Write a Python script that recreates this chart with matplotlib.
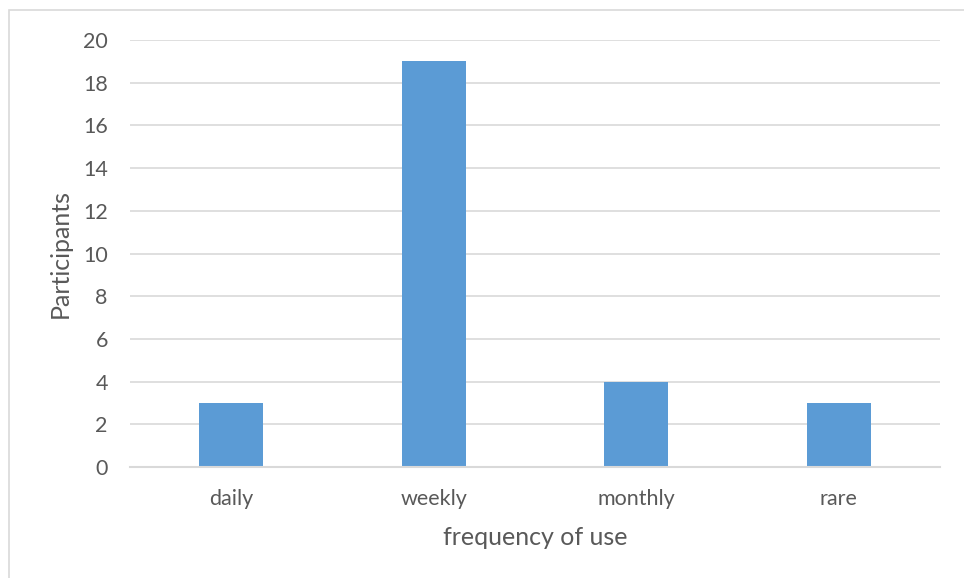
import matplotlib
matplotlib.use("Agg")
import matplotlib.pyplot as plt
from matplotlib.patches import Rectangle

categories = ["daily", "weekly", "monthly", "rare"]
participants = [3, 19, 4, 3]
y_ticks = [0, 2, 4, 6, 8, 10, 12, 14, 16, 18, 20]

plt.rcParams['font.family'] = ['Lato', 'DejaVu Sans']
text_color = "#595959"
grid_color = "#D9D9D9"
bar_color = "#5B9BD5"

W, H = 964, 578
fig = plt.figure(figsize=(W / 100, H / 100), dpi=100)

# chart-area frame (left and top edges visible)
fig.add_artist(Rectangle((8.5 / W, -0.1), 1.2, 1.1 - 10.5 / H,
                         transform=fig.transFigure, fill=False,
                         edgecolor=grid_color, linewidth=1.2))

ax = fig.add_axes([130 / W, 1 - 467 / H, (940 - 130) / W, (467 - 40) / H])
x = list(range(len(categories)))
ax.bar(x, participants, width=0.316, color=bar_color, zorder=3)

ax.set_xlim(-0.5, len(categories) - 0.5)
ax.set_ylim(0, 20)
ax.set_yticks(y_ticks)
ax.set_xticks(x)
ax.set_xticklabels(categories)
ax.yaxis.grid(True, color=grid_color, linewidth=1.2, zorder=0)
ax.set_axisbelow(True)
for side in ("top", "right", "left"):
    ax.spines[side].set_visible(False)
ax.spines["bottom"].set_color(grid_color)
ax.spines["bottom"].set_linewidth(1.5)
ax.spines["bottom"].set_zorder(4)
ax.tick_params(axis="both", length=0, labelsize=15.5, labelcolor=text_color)
ax.tick_params(axis="y", pad=16)
ax.tick_params(axis="x", pad=16)

ax.set_ylabel("Participants", fontsize=18, color=text_color, labelpad=8)
ax.set_xlabel("frequency of use", fontsize=18, color=text_color, labelpad=12)

fig.savefig("out.png", dpi=100, facecolor="white")
